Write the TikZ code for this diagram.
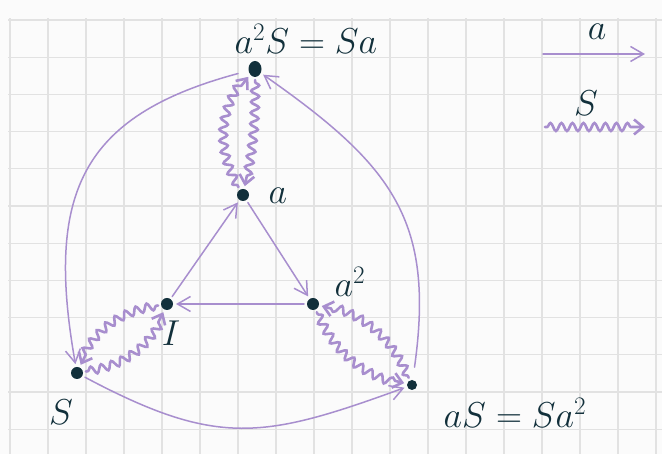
\RequirePackage{fix-cm}
\documentclass[tikz,border=0pt]{standalone}
\usepackage{amsmath,amssymb}
\usetikzlibrary{arrows.meta,positioning,calc,shapes.geometric,decorations.pathmorphing}
\definecolor{lilac}{HTML}{A88ECE}
\definecolor{ink}{HTML}{12303B}
\definecolor{gridgrey}{HTML}{E2E2E2}
\definecolor{paper}{HTML}{FBFBFB}

\begin{document}
\begin{tikzpicture}[x=1pt,y=1pt,
  dot/.style={circle,fill=ink,inner sep=0pt,minimum size=12pt,outer sep=3pt},
  lab/.style={text=ink,inner sep=0pt,font=\fontsize{36}{42}\selectfont},
  gridline/.style={draw=gridgrey,line width=1.2pt},
  aarrow/.style={draw=lilac,line width=1.5pt,line cap=round,
    -{Straight Barb[length=13pt,width=15pt,line width=1.5pt]}},
  sarrow/.style={draw=lilac,line width=2.6pt,line cap=round,
    decoration={snake,segment length=11pt,amplitude=4pt,pre length=2pt,post length=9pt},
    every edge/.append style={decorate},
    -{Straight Barb[length=9pt,width=15pt,line width=2.6pt]}}]
\useasboundingbox (0,0) rectangle (662,454);
\fill[paper] (0,0) rectangle (662,454);
% squared paper
\foreach \k in {0,...,17}
  \draw[gridline] ({10+38*\k},0) -- ({10+38*\k},436);
\foreach \k in {0,...,11}
  \draw[gridline] (8,{434-37.2*\k}) -- (662,{434-37.2*\k});

% elements of the group
\node[dot,ellipse,minimum width=13pt,minimum height=16pt] (a2S) at (255,385) {};
\node[dot] (a)  at (243,259) {};
\node[dot] (I)  at (167,150) {};
\node[dot] (a2) at (313,150) {};
\node[dot] (S)  at (77,81) {};
\node[dot,minimum size=10pt] (aS) at (412,69) {};

\node[lab] (a2Slab) at (306,415) {$a^2S = Sa$};
\node[lab] (alab)   at (278,258) {$a$};
\node[lab] (a2lab)  at (350,172) {$a^2$};
\node[lab] (Ilab)   at (171,121) {$I$};
\node[lab] (Slab)   at (61,42)   {$S$};
\node[lab] (aSlab)  at (515,41)  {$aS = Sa^2$};

% legend
\coordinate (la1) at (543,400);
\coordinate (la2) at (645,400);
\coordinate (ls1) at (545,327);
\coordinate (ls2) at (645,327);
\node[lab] (lalab) at (597,422) {$a$};
\node[lab] (lslab) at (586,351) {$S$};
\draw[aarrow] (la1) -- (la2);
\draw[sarrow,decorate] (ls1) -- (ls2);

% multiplication by a
\path[aarrow]
(I)  edge (a)
(a)  edge (a2)
(a2) edge (I)
(a2S) edge[out=195,in=100,looseness=1.3,shorten <=8pt] (S)
(S)  edge[out=-28,in=200,looseness=1.2] (aS)
(aS) edge[out=82,in=-35,looseness=1.2,shorten <=10pt] (a2S)
;
% multiplication by S
\path[sarrow]
(a)   edge[bend left=35] (a2S)
(a2S) edge[bend left=6]  (a)
(I)   edge[bend right=28] (S)
(S)   edge[bend right=28] (I)
(a2)  edge[bend right=26] (aS)
(aS)  edge[bend right=26] (a2)
;
\end{tikzpicture}
\end{document}
